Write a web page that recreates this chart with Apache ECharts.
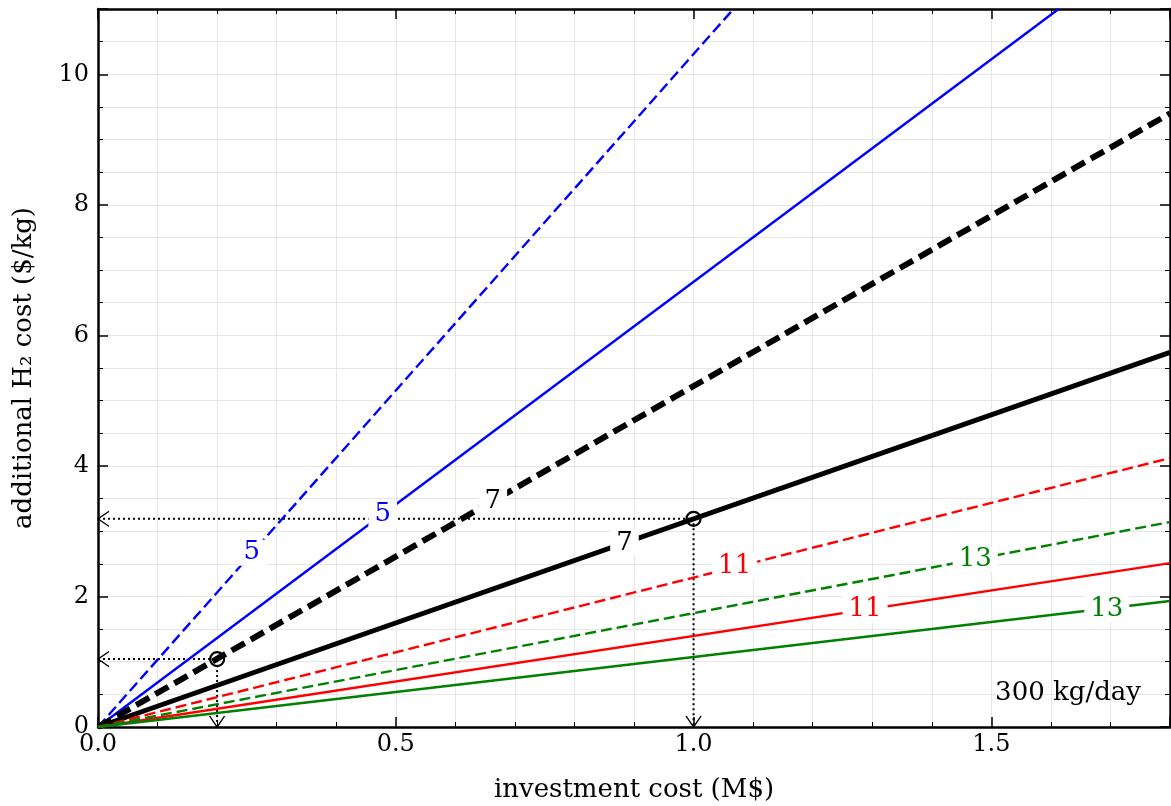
<!DOCTYPE html>
<html><head><meta charset="utf-8">
<script src="https://cdn.jsdelivr.net/npm/echarts@6/dist/echarts.min.js"></script>
<style>html,body{margin:0;padding:0;background:#fff}#c{width:1171px;height:806px}</style>
</head><body><div id="c"></div>
<script>
// Lines through the origin: end point (x in M$, y in $/kg)
const lineNames = ['5 (dashed)', '5', '7 (dashed)', '7', '11 (dashed)', '11', '13 (dashed)', '13'];
const lineEndX = [1.067, 1.613, 1.8, 1.8, 1.8, 1.8, 1.8, 1.8];
const lineEndY = [11, 11, 9.40, 5.74, 4.12, 2.51, 3.14, 1.93];

// Inline contour labels
const labelText = ['5', '5', '7', '7', '11', '13', '11', '13'];
const labelX = [0.258, 0.478, 0.663, 0.884, 1.069, 1.473, 1.288, 1.694];
const labelY = [2.67, 3.26, 3.46, 2.82, 2.47, 2.57, 1.81, 1.81];

// Example read-offs (dotted guides)
const guideX = [0.2, 1.0];
const guideY = [1.04, 3.19];

const xTicks = [0, 0.5, 1.0, 1.5];
const yTicks = [0, 2, 4, 6, 8, 10];

const FONT = 'DejaVu Serif';
const lineColor = ['#0000ff', '#0000ff', '#000', '#000', '#ff0000', '#ff0000', '#008000', '#008000'];
const lineWidth = [2.4, 2.4, 6, 5, 2.4, 2.4, 2.4, 2.4];
const lineType = [[11, 5], 'solid', [15, 7], 'solid', [11, 5], 'solid', [11, 5], 'solid'];
const labelColor = ['#0000ff', '#0000ff', '#000', '#000', '#ff0000', '#008000', '#ff0000', '#008000'];

const series = [];
lineNames.forEach((n, i) => {
  series.push({
    name: n, type: 'line', showSymbol: false, symbol: 'none', z: 3,
    data: [[0, 0], [lineEndX[i], lineEndY[i]]],
    lineStyle: { color: lineColor[i], width: lineWidth[i], type: lineType[i], cap: 'butt' },
    emphasis: { disabled: true }, silent: true
  });
});

// dotted guides
guideX.forEach((gx, i) => {
  series.push({
    type: 'line', showSymbol: false, symbol: 'none', z: 2, silent: true,
    data: [[0, guideY[i]], [gx, guideY[i]], [gx, 0]],
    lineStyle: { color: '#000', width: 2, type: [2, 3] }
  });
});
// arrow heads
series.push({
  type: 'scatter', z: 4, clip: false, silent: true,
  symbol: 'path://M10,0L0,5L10,10', symbolSize: [11, 15], symbolOffset: [5.5, 0], symbolKeepAspect: false,
  itemStyle: { color: 'rgba(0,0,0,0)', borderColor: '#000', borderWidth: 1.2, opacity: 1 },
  data: guideY.map(v => [0, v])
});
series.push({
  type: 'scatter', z: 4, clip: false, silent: true,
  symbol: 'path://M0,0L5,10L10,0', symbolSize: [15, 11], symbolOffset: [0, -5.5], symbolKeepAspect: false,
  itemStyle: { color: 'rgba(0,0,0,0)', borderColor: '#000', borderWidth: 1.2, opacity: 1 },
  data: guideX.map(v => [v, 0])
});
// circles
series.push({
  type: 'scatter', z: 6, silent: true, symbol: 'circle', symbolSize: 14,
  itemStyle: { color: 'rgba(0,0,0,0)', borderColor: '#000', borderWidth: 2.2, opacity: 1 },
  data: guideX.map((v, i) => [v, guideY[i]])
});
// contour labels
series.push({
  type: 'scatter', z: 5, silent: true, symbol: 'circle', symbolSize: 1,
  itemStyle: { color: 'rgba(0,0,0,0)', opacity: 1 },
  data: labelText.map((t, i) => ({
    value: [labelX[i], labelY[i]],
    label: { show: true, position: 'inside', formatter: t, color: labelColor[i], opacity: 1,
      fontFamily: FONT, fontSize: 26, backgroundColor: '#fff', padding: [0, 6, 0, 6] }
  }))
});

const gridColor = '#e6e6e6';
function xAxisBase(pos, show) {
  return {
    type: 'value', position: pos, min: 0, max: 1.8, interval: 0.5,
    axisLine: { show: true, onZero: false, lineStyle: { color: '#000', width: 2.5 } },
    axisTick: { show: true, inside: true, length: 10, lineStyle: { color: '#000', width: 1.5 } },
    minorTick: { show: true, splitNumber: 5, length: 5, lineStyle: { color: '#000', width: 1 } },
    splitLine: { show: show, lineStyle: { color: gridColor, width: 1 } },
    minorSplitLine: { show: show, lineStyle: { color: gridColor, width: 1 } },
    axisLabel: { show: show, fontFamily: FONT, fontSize: 24, color: '#000', margin: 6,
      formatter: v => xTicks.some(t => Math.abs(t - v) < 1e-9) ? v.toFixed(1) : '' },
    name: show ? 'investment cost (M$)' : '', nameLocation: 'middle', nameGap: 50,
    nameTextStyle: { fontFamily: FONT, fontSize: 26, color: '#000' }
  };
}
function yAxisBase(pos, show) {
  return {
    type: 'value', position: pos, min: 0, max: 11, interval: 2,
    axisLine: { show: true, onZero: false, lineStyle: { color: '#000', width: 2.5 } },
    axisTick: { show: true, inside: true, length: 10, lineStyle: { color: '#000', width: 1.5 } },
    minorTick: { show: true, splitNumber: 4, length: 5, lineStyle: { color: '#000', width: 1 } },
    splitLine: { show: show, lineStyle: { color: gridColor, width: 1 } },
    minorSplitLine: { show: show, lineStyle: { color: gridColor, width: 1 } },
    axisLabel: { show: show, fontFamily: FONT, fontSize: 24, color: '#000', margin: 9,
      formatter: v => yTicks.includes(v) ? String(v) : '' },
    name: show ? 'additional H₂ cost ($/kg)' : '', nameLocation: 'middle', nameGap: 61,
    nameTextStyle: { fontFamily: FONT, fontSize: 26, color: '#000' }
  };
}

const chart = echarts.init(document.getElementById('c'), null, { renderer: 'canvas' });
chart.setOption({
  animation: false,
  backgroundColor: '#fff',
  grid: { left: 98, right: 1, top: 9, bottom: 79, containLabel: false, outerBoundsMode: 'none' },
  xAxis: [xAxisBase('bottom', true), xAxisBase('top', false)],
  yAxis: [yAxisBase('left', true), yAxisBase('right', false)],
  graphic: [{
    type: 'text', right: 30, top: 680, z: 100,
    style: { text: '300 kg/day', fontFamily: FONT, fontSize: 26, fill: '#000' }
  }],
  series: series
});
</script></body></html>
